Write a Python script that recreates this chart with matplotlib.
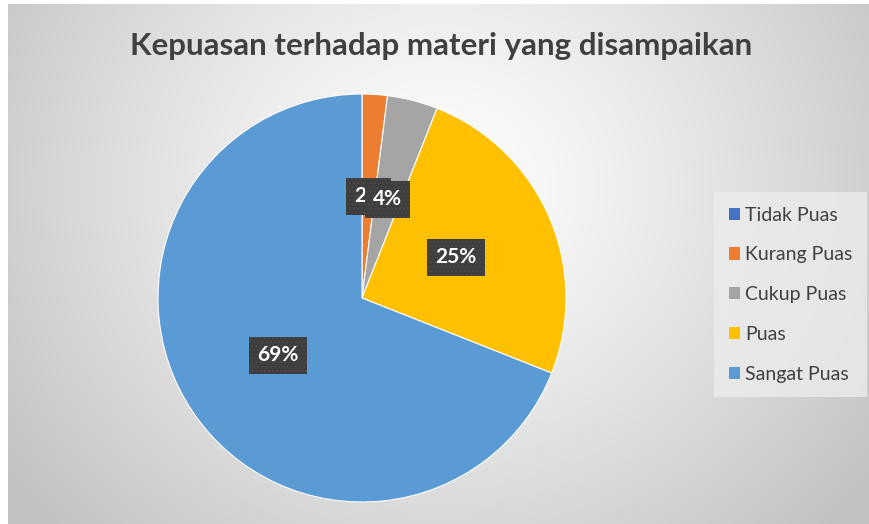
import numpy as np
import matplotlib
matplotlib.use("Agg")
import matplotlib.pyplot as plt
from matplotlib.patches import Patch

categories = ["Tidak Puas", "Kurang Puas", "Cukup Puas", "Puas", "Sangat Puas"]
values = [0, 2, 4, 25, 69]
colors = ["#4472C4", "#ED7D31", "#A5A5A5", "#FFC000", "#5B9BD5"]
title = "Kepuasan terhadap materi yang disampaikan"

plt.rcParams['font.family'] = ['Lato', 'DejaVu Sans']

W, H = 869, 524
fig = plt.figure(figsize=(W / 100, H / 100), dpi=100)
fig.patch.set_facecolor("white")

# background with radial gradient
bg = fig.add_axes([8 / W, 0, 1 - 8 / W, 1 - 4 / H])
bg.set_axis_off()
ny, nx = 260, 430
yy, xx = np.mgrid[0:ny, 0:nx]
cx, cy = nx * 0.50, ny * 0.35
d = np.sqrt(((xx - cx) / (nx * 0.62)) ** 2 + ((yy - cy) / (ny * 0.95)) ** 2)
d = np.clip(d, 0, 1)
shade = 1.0 - 0.24 * d ** 1.2
img = np.dstack([shade, shade, shade])
bg.imshow(img, aspect="auto", extent=[0, 1, 0, 1], origin="upper", interpolation="bilinear")
bg.set_xlim(0, 1)
bg.set_ylim(0, 1)

# pie
cxp, cyp, r = 362, 298, 204
ax = fig.add_axes([(cxp - r) / W, (H - cyp - r) / H, 2 * r / W, 2 * r / H])
wedges, _ = ax.pie(values, colors=colors, startangle=90, counterclock=False,
                   wedgeprops=dict(edgecolor="white", linewidth=0.8))
ax.set_xlim(-1, 1)
ax.set_ylim(-1, 1)
ax.set_aspect("equal")
ax.set_axis_off()

# data labels
total = sum(values)
cum = 0
for i, v in enumerate(values):
    mid = (cum + v / 2) / total
    cum += v
    if v == 0:
        continue
    ang = np.deg2rad(90 - 360 * mid)
    x, y = 0.5 * np.cos(ang), 0.5 * np.sin(ang)
    ax.text(x, y, f"{v}%", ha="center", va="center", color="white",
            fontsize=15, fontweight="bold", zorder=10 + i,
            bbox=dict(boxstyle="square,pad=0.4", fc="#3d3d3d", ec="#4a4a4a",
                      lw=0, hatch="...."))

# title
fig.text(441 / W, 1 - 46 / H, title, ha="center", va="center",
         fontsize=22.5, fontweight="bold", color="#404040")

# legend
handles = [Patch(facecolor=c, edgecolor="none") for c in colors]
leg = fig.legend(handles, categories, loc="upper left",
                 bbox_to_anchor=(714 / W, 1 - 192 / H), borderaxespad=0,
                 frameon=True, fontsize=14, labelspacing=1.17,
                 handlelength=0.6, handleheight=0.6, handletextpad=0.25,
                 borderpad=0.75, labelcolor="#404040")
leg.get_frame().set_facecolor("#ececec")
leg.get_frame().set_edgecolor("none")
leg.get_frame().set_boxstyle("square", pad=0)

fig.savefig("out.png", dpi=100)
